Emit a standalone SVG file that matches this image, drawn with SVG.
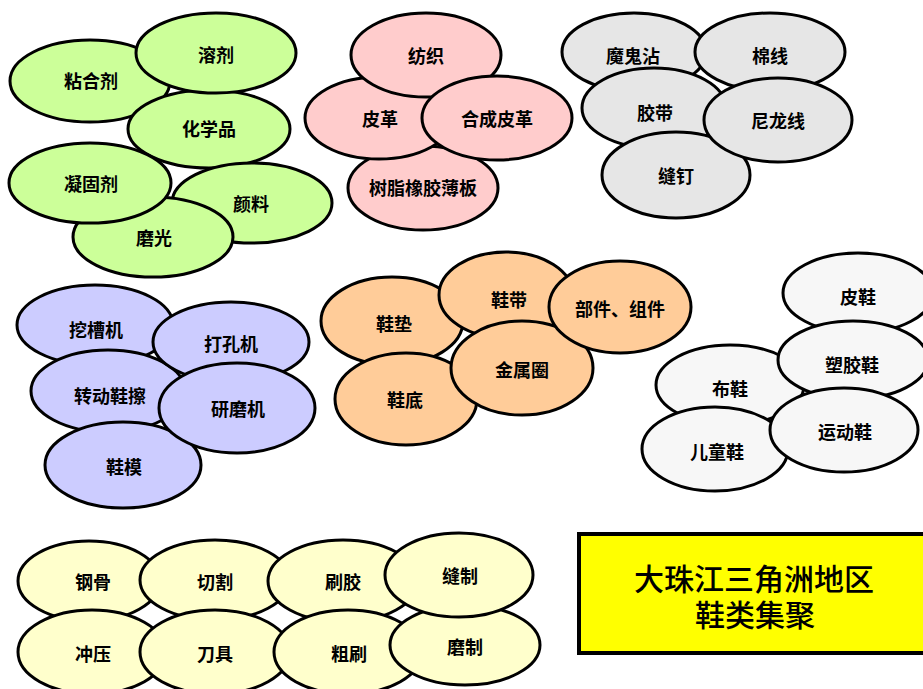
<svg xmlns="http://www.w3.org/2000/svg" width="923" height="689" viewBox="0 0 923 689">
<style>
  ellipse { stroke: #000; stroke-width: 3; }
  .g { fill: #ccff99; }
  .p { fill: #ffcccc; }
  .s { fill: #e6e6e6; }
  .v { fill: #ccccff; }
  .o { fill: #ffcc99; }
  .w { fill: #f7f7f7; }
  .y { fill: #ffffcc; }
  text { font-family: "Noto Sans CJK SC", "Noto Sans", sans-serif; font-weight: bold; font-size: 18px; fill: #000; text-anchor: middle; dominant-baseline: central; }
  .title { font-weight: 500; font-size: 30px; dominant-baseline: auto; }
</style>
<rect width="923" height="689" fill="#fff"/>
<g id="connectors"/>
<!-- green -->
<g id="n-nianheji"><ellipse class="g" cx="90" cy="81" rx="80" ry="41"/><text x="91" y="80">粘合剂</text></g>
<g id="n-huaxuepin"><ellipse class="g" cx="209" cy="129" rx="81" ry="39"/><text x="209" y="128">化学品</text></g>
<g id="n-rongji"><ellipse class="g" cx="216" cy="53" rx="80" ry="40"/><text x="216" y="54">溶剂</text></g>
<g id="n-yanliao"><ellipse class="g" cx="252" cy="203" rx="80" ry="40"/><text x="251" y="203">颜料</text></g>
<g id="n-moguang"><ellipse class="g" cx="153" cy="237" rx="80" ry="40"/><text x="154" y="237">磨光</text></g>
<g id="n-ningguji"><ellipse class="g" cx="90" cy="183" rx="81" ry="40"/><text x="91" y="183">凝固剂</text></g>
<!-- pink -->
<g id="n-shuzhi"><ellipse class="p" cx="423" cy="188" rx="75" ry="42"/><text x="423" y="187">树脂橡胶薄板</text></g>
<g id="n-pige"><ellipse class="p" cx="379" cy="118" rx="74" ry="41"/><text x="380" y="118">皮革</text></g>
<g id="n-fangzhi"><ellipse class="p" cx="426" cy="55" rx="75" ry="42"/><text x="426" y="55">纺织</text></g>
<g id="n-hechengpige"><ellipse class="p" cx="497" cy="118" rx="75" ry="42"/><text x="497" y="118">合成皮革</text></g>
<!-- gray -->
<g id="n-moguizhan"><ellipse class="s" cx="634" cy="52" rx="72" ry="39"/><text x="633" y="55">魔鬼沾</text></g>
<g id="n-mianxian"><ellipse class="s" cx="770" cy="52" rx="75" ry="39"/><text x="770" y="55">棉线</text></g>
<g id="n-jiaodai"><ellipse class="s" cx="654" cy="108" rx="72" ry="40"/><text x="655" y="112">胶带</text></g>
<g id="n-fengding"><ellipse class="s" cx="676" cy="175" rx="74" ry="43"/><text x="676" y="175">缝钉</text></g>
<g id="n-nilongxian"><ellipse class="s" cx="778" cy="120" rx="74" ry="42"/><text x="778" y="120">尼龙线</text></g>
<!-- purple -->
<g id="n-wacaoji"><ellipse class="v" cx="95" cy="325" rx="78" ry="40"/><text x="96" y="329">挖槽机</text></g>
<g id="n-zhuandong"><ellipse class="v" cx="108" cy="391" rx="77" ry="41"/><text x="110" y="395">转动鞋擦</text></g>
<g id="n-xiemo"><ellipse class="v" cx="123" cy="465" rx="78" ry="43"/><text x="124" y="466">鞋模</text></g>
<g id="n-dakongji"><ellipse class="v" cx="231" cy="342" rx="78" ry="40"/><text x="231" y="343">打孔机</text></g>
<g id="n-yanmoji"><ellipse class="v" cx="237" cy="408" rx="78" ry="45"/><text x="238" y="408">研磨机</text></g>
<!-- orange -->
<g id="n-xiedian"><ellipse class="o" cx="392" cy="321" rx="71" ry="44"/><text x="394" y="323">鞋垫</text></g>
<g id="n-xiedi"><ellipse class="o" cx="406" cy="399" rx="71" ry="46"/><text x="405" y="399">鞋底</text></g>
<g id="n-xiedai"><ellipse class="o" cx="506" cy="295" rx="67" ry="43"/><text x="509" y="299">鞋带</text></g>
<g id="n-jinshuquan"><ellipse class="o" cx="522" cy="368" rx="71" ry="47"/><text x="522" y="369">金属圈</text></g>
<g id="n-bujian"><ellipse class="o" cx="620" cy="307" rx="71" ry="46"/><text x="620" y="308">部件、组件</text></g>
<!-- white -->
<g id="n-pixie"><ellipse class="w" cx="858" cy="293" rx="75" ry="40"/><text x="858" y="296">皮鞋</text></g>
<g id="n-buxie"><ellipse class="w" cx="730" cy="385" rx="74" ry="40"/><text x="730" y="388">布鞋</text></g>
<g id="n-sujiaoxie"><ellipse class="w" cx="853" cy="360" rx="75" ry="39"/><text x="852" y="364">塑胶鞋</text></g>
<g id="n-ertongxie"><ellipse class="w" cx="715" cy="449" rx="73" ry="42"/><text x="717" y="451">儿童鞋</text></g>
<g id="n-yundongxie"><ellipse class="w" cx="844" cy="430" rx="74" ry="42"/><text x="845" y="431">运动鞋</text></g>
<!-- yellow -->
<g id="n-ganggu"><ellipse class="y" cx="89" cy="581" rx="71" ry="40"/><text x="93" y="581">钢骨</text></g>
<g id="n-qiege"><ellipse class="y" cx="215" cy="580" rx="75" ry="40"/><text x="215" y="581">切割</text></g>
<g id="n-shuajiao"><ellipse class="y" cx="343" cy="581" rx="75" ry="41"/><text x="343" y="581">刷胶</text></g>
<g id="n-chongya"><ellipse class="y" cx="92" cy="652" rx="74" ry="42"/><text x="93" y="653">冲压</text></g>
<g id="n-daoju"><ellipse class="y" cx="215" cy="652" rx="75" ry="42"/><text x="215" y="653">刀具</text></g>
<g id="n-cushua"><ellipse class="y" cx="348" cy="652" rx="74" ry="42"/><text x="349" y="653">粗刷</text></g>
<g id="n-mozhi"><ellipse class="y" cx="465" cy="645" rx="75" ry="40"/><text x="465" y="646">磨制</text></g>
<g id="n-fengzhi"><ellipse class="y" cx="459" cy="575" rx="74" ry="42"/><text x="460" y="575">缝制</text></g>
<!-- title -->
<g id="n-title">
  <rect x="579" y="534" width="350" height="119" fill="#ffff00" stroke="#000" stroke-width="4"/>
  <text class="title" x="754" y="590">大珠江三角洲地区</text>
  <text class="title" x="755" y="626">鞋类集聚</text>
</g>
</svg>
